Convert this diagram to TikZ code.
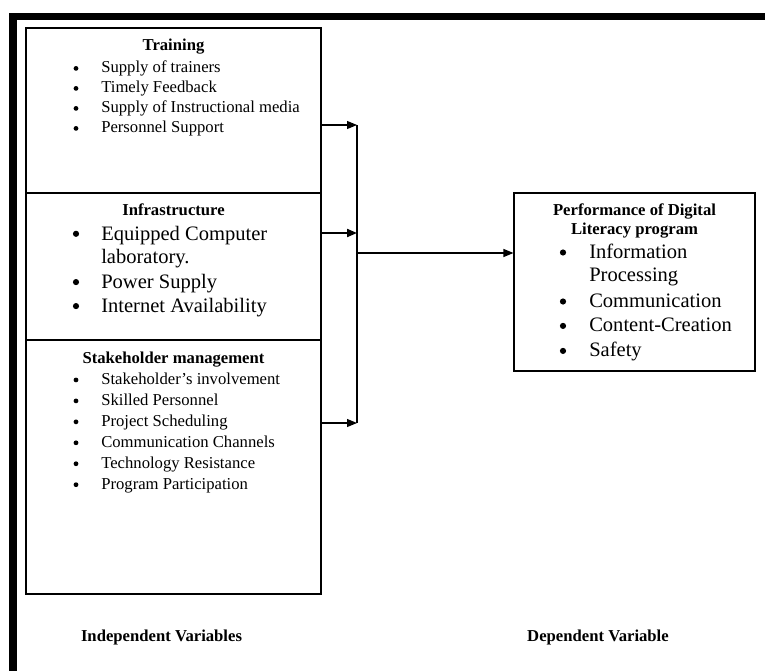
\documentclass[tikz,border=0pt]{standalone}
\usepackage{fontspec}
\setmainfont{Liberation Serif}
\usetikzlibrary{arrows.meta}
\newdimen\pxu \pxu=0.75pt
\begin{document}
\begin{tikzpicture}[x=0.75pt,y=-0.75pt,
  box/.style={draw,line width=0.8pt,inner sep=0pt},
  head/.style={anchor=base,inner sep=0pt,font=\fontsize{12.5}{15}\selectfont\bfseries},
  small/.style={anchor=base west,inner sep=0pt,font=\fontsize{12.5}{15}\selectfont},
  large/.style={anchor=base west,inner sep=0pt,font=\fontsize{15.4}{18}\selectfont},
  bul/.style={circle,fill,inner sep=0pt,minimum size=4.8\pxu},
  bigbul/.style={circle,fill,inner sep=0pt,minimum size=6.2\pxu},
  conn/.style={line width=0.8pt},
  arr/.style={line width=0.8pt,-{Triangle[length=7.5pt,width=6pt]}}]
\useasboundingbox (0,0) rectangle (765,671);
% frame bars
\fill (9,13) rectangle (765,20);
\fill (9,13) rectangle (17,671);
% boxes
\node[box,minimum width=295\pxu,minimum height=165\pxu] (train) at (173.5,110.5) {};
\node[box,minimum width=295\pxu,minimum height=147\pxu] (infra) at (173.5,266.5) {};
\node[box,minimum width=295\pxu,minimum height=254\pxu] (stake) at (173.5,467) {};
\node[box,minimum width=241\pxu,minimum height=178\pxu] (perf) at (634.5,282) {};
% training
\node[head] (th) at (173.5,50.7) {Training};
\foreach \t [count=\i] in {Supply of trainers,Timely Feedback,Supply of Instructional media,Personnel Support}{
  \node[bul] (tb\i) at (76,48.4+20*\i) {};
  \node[small] (ti\i) at (101,52.7+20*\i) {\t};
}
% infrastructure
\node[head] (ih) at (173.5,215) {Infrastructure};
\node[bigbul] (ib1) at (76,233.8) {};
\node[large] (ii1) at (101,240) {Equipped Computer};
\node[large] (ii1b) at (101,263.3) {laboratory.};
\node[bigbul] (ib2) at (76,282.1) {};
\node[large] (ii2) at (101,288.3) {Power Supply};
\node[bigbul] (ib3) at (76,306.1) {};
\node[large] (ii3) at (101,312.3) {Internet Availability};
% stakeholder
\node[head] (sh) at (173.5,363.3) {Stakeholder management};
\foreach \t [count=\i] in {Stakeholder’s involvement,Skilled Personnel,Project Scheduling,Communication Channels,Technology Resistance,Program Participation}{
  \node[bul] (sb\i) at (76,359+20.95*\i) {};
  \node[small] (si\i) at (101,363.3+20.95*\i) {\t};
}
% performance
\node[head] (ph1) at (634.5,215) {Performance of Digital};
\node[head] (ph2) at (634.5,234.3) {Literacy program};
\node[bigbul] (pb1) at (563,252.5) {};
\node[large] (pi1) at (589,258.3) {Information};
\node[large] (pi1b) at (589,281) {Processing};
\node[bigbul] (pb2) at (563,301.5) {};
\node[large] (pi2) at (589,307.3) {Communication};
\node[bigbul] (pb3) at (563,325.9) {};
\node[large] (pi3) at (589,331.7) {Content-Creation};
\node[bigbul] (pb4) at (563,350.9) {};
\node[large] (pi4) at (589,356.7) {Safety};
% connectors
\coordinate (vt) at (357,125);
\coordinate (vm) at (357,233);
\coordinate (vj) at (357,253);
\coordinate (vb) at (357,423);
\draw[arr] (train.east |- vt) -- (vt);
\draw[arr,line width=1.5pt] (infra.east |- vm) -- (vm);
\draw[arr] (stake.east |- vb) -- (vb);
\draw[conn] (vt) -- (vb);
\draw[arr] (vj) -- (perf.west |- vj);
% bottom labels
\node[head] (iv) at (161.5,641) {Independent Variables};
\node[head] (dv) at (598,641) {Dependent Variable};
\end{tikzpicture}
\end{document}
